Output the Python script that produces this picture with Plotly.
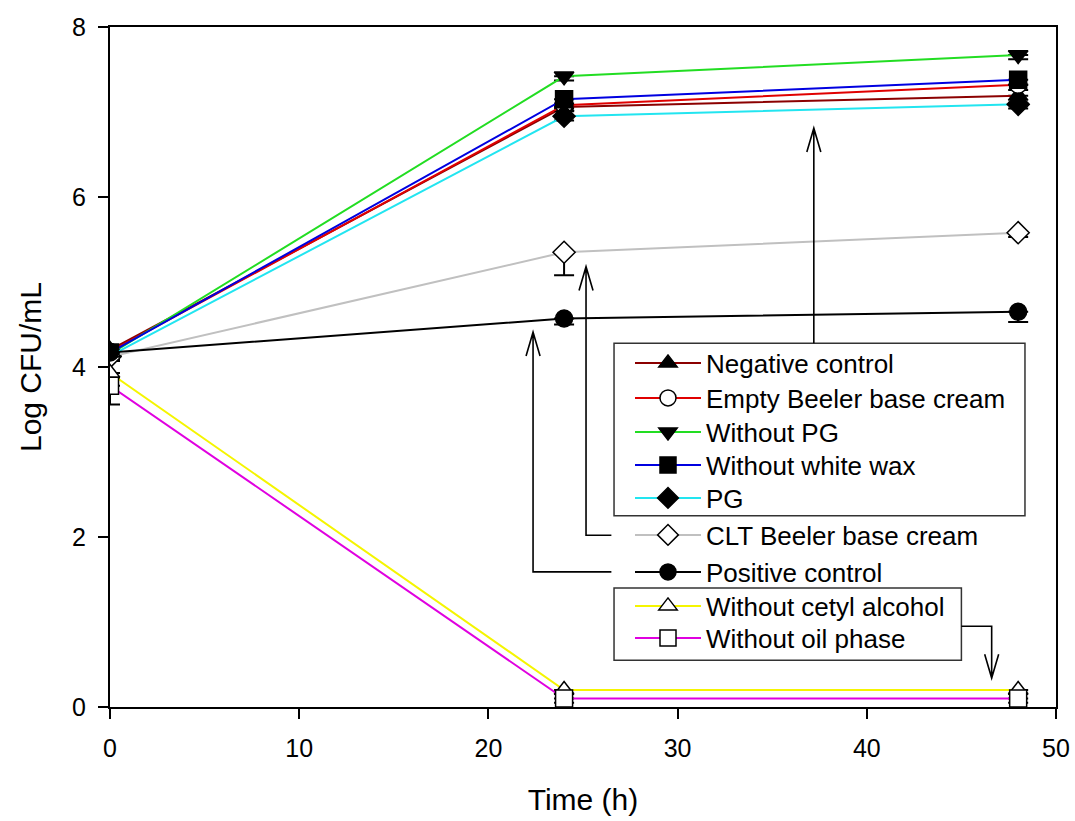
import plotly.graph_objects as go

time_h = [0, 24, 48]

series_names = [
    "Negative control", "Empty Beeler base cream", "Without PG", "Without white wax", "PG",
    "CLT Beeler base cream", "Positive control", "Without cetyl alcohol", "Without oil phase",
]
neg_control = [4.20, 7.06, 7.19]
empty_base = [4.18, 7.08, 7.32]
without_pg = [4.15, 7.42, 7.67]
without_wax = [4.17, 7.15, 7.38]
pg = [4.13, 6.95, 7.09]
clt_base = [4.12, 5.35, 5.58]
pos_control = [4.17, 4.57, 4.65]
without_cetyl = [3.93, 0.20, 0.20]
without_oil = [3.78, 0.10, 0.10]

err_neg = [0.05, 0.05, 0.08]
err_empty = [0.04, 0.04, 0.06]
err_pg_free = [0.04, 0.05, 0.05]
err_wax = [0.04, 0.05, 0.06]
err_pg = [0.04, 0.05, 0.05]
err_clt = [0.05, 0.27, 0.05]
err_pos = [0.05, 0.07, 0.12]
err_cetyl = [0.06, 0.04, 0.04]
err_oil = [0.22, 0.05, 0.05]

values = [neg_control, empty_base, without_pg, without_wax, pg, clt_base, pos_control, without_cetyl, without_oil]
errors = [err_neg, err_empty, err_pg_free, err_wax, err_pg, err_clt, err_pos, err_cetyl, err_oil]
line_colors = ["#8B0000", "#E00000", "#22DD22", "#0000E0", "#22E5F0", "#C0C0C0", "#000000", "#F5F500", "#E000E0"]
symbols = ["triangle-up", "circle-open", "triangle-down", "square", "diamond",
           "diamond-open", "circle", "triangle-up-open", "square-open"]

# layout geometry (pixels)
W, H = 1075, 821
ML, MR, MT, MB = 110, 19, 27, 114
PW, PH = W - ML - MR, H - MT - MB
legend_rows_px = [363, 398, 432, 465, 498, 535, 572, 606, 638]
legend_x_px = 630

fig = go.Figure()
layout_legends = {}
for i, (name, y, e, lc, sym) in enumerate(zip(series_names, values, errors, line_colors, symbols)):
    is_open = sym.endswith("-open")
    lname = "legend" if i == 0 else f"legend{i + 1}"
    fig.add_trace(go.Scatter(
        x=time_h, y=y, name=name, mode="lines+markers", legend=lname,
        line=dict(color=lc, width=2),
        marker=dict(symbol=sym.replace("-open", ""), size=17,
                    color="white" if is_open else "black",
                    line=dict(color="black", width=1.5)),
        error_y=dict(type="data", symmetric=False, array=[0, 0, 0], arrayminus=e,
                     color="black", thickness=2, width=10),
    ))
    layout_legends[lname] = dict(
        x=(legend_x_px - ML) / PW, y=(H - MB - legend_rows_px[i]) / PH,
        xanchor="left", yanchor="middle", bgcolor="rgba(0,0,0,0)", borderwidth=0,
        font=dict(size=26, color="black"), itemwidth=66,
    )

# legend boxes
fig.add_shape(type="rect", xref="x", yref="y", x0=26.64, x1=48.36, y0=2.25, y1=4.28,
              line=dict(color="#333333", width=1.5))
fig.add_shape(type="rect", xref="x", yref="y", x0=26.64, x1=45.0, y0=0.55, y1=1.40,
              line=dict(color="#333333", width=1.5))

# callout arrows
dx, dy = 0.37, 0.28
arrow_paths = [
    f"M37.2,4.28 L37.2,6.81 M{37.2 - dx},{6.81 - dy} L37.2,6.81 L{37.2 + dx},{6.81 - dy}",
    f"M26.5,2.02 L25.16,2.02 L25.16,5.18 M{25.16 - dx},{5.18 - dy} L25.16,5.18 L{25.16 + dx},{5.18 - dy}",
    f"M26.5,1.59 L22.36,1.59 L22.36,4.41 M{22.36 - dx},{4.41 - dy} L22.36,4.41 L{22.36 + dx},{4.41 - dy}",
    f"M45.0,0.95 L46.6,0.95 L46.6,0.34 M{46.6 - dx},{0.34 + dy} L46.6,0.34 L{46.6 + dx},{0.34 + dy}",
]
for p in arrow_paths:
    fig.add_shape(type="path", xref="x", yref="y", path=p, line=dict(color="black", width=1.6))

fig.update_layout(
    width=W, height=H,
    margin=dict(l=ML, r=MR, t=MT, b=MB),
    plot_bgcolor="white", paper_bgcolor="white",
    font=dict(family="Liberation Sans, Arial, sans-serif", color="black"),
    showlegend=True,
    **layout_legends,
)
fig.update_xaxes(range=[0, 50], tickvals=[0, 10, 20, 30, 40, 50], showgrid=False, zeroline=False,
                 showline=True, linecolor="black", linewidth=2, mirror=True, automargin=False,
                 ticks="outside", ticklen=10, tickwidth=1.8, tickcolor="black",
                 ticklabelstandoff=8,
                 tickfont=dict(size=25), title=dict(text="Time (h)", font=dict(size=30), standoff=28))
fig.update_yaxes(range=[0, 8], tickvals=[0, 2, 4, 6, 8], showgrid=False, zeroline=False,
                 showline=True, linecolor="black", linewidth=2, mirror=True, automargin=False,
                 ticks="outside", ticklen=10, tickwidth=1.8, tickcolor="black",
                 ticklabelstandoff=7,
                 tickfont=dict(size=25), title=dict(text="Log CFU/mL", font=dict(size=30), standoff=22))

fig.write_html("out.html")
